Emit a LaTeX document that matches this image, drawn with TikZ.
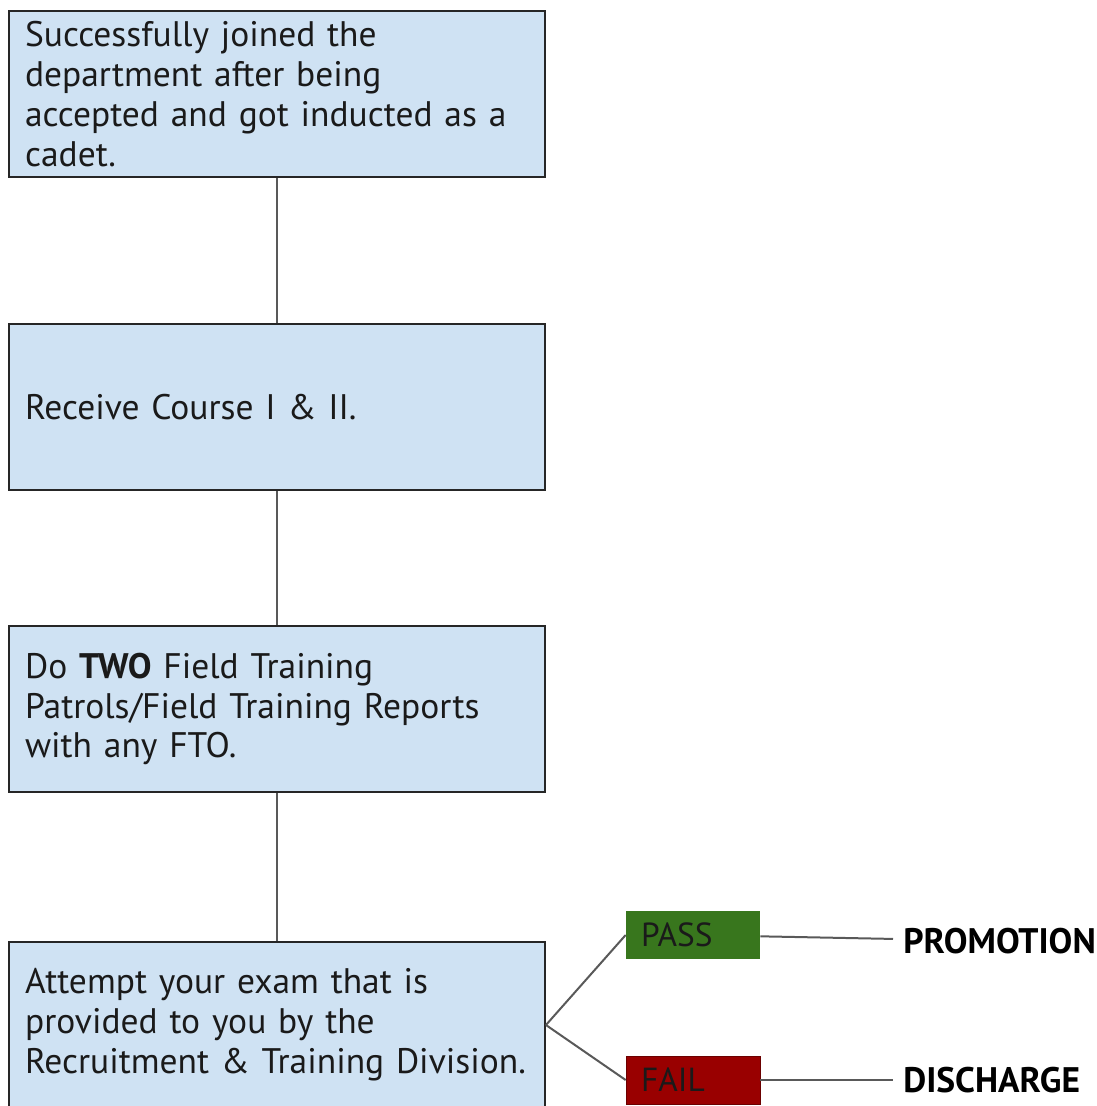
\documentclass[tikz,border=0pt]{standalone}
\usepackage{fontspec}
\setmainfont{PT Sans}
\usetikzlibrary{arrows,shapes}

\begin{document}
\begin{tikzpicture}[x=0.02cm,y=-0.02cm,font=\fontsize{20.2}{22.7}\selectfont]

\definecolor{stagebox}{HTML}{CFE2F3} % light blue
\definecolor{stageline}{HTML}{262626} % near black
\definecolor{passbox}{HTML}{38761D} % dark green
\definecolor{failbox}{HTML}{990000} % dark red
\definecolor{wire}{HTML}{595959} % grey
\definecolor{txt}{HTML}{1A1A1A} % off-black

\tikzstyle{stage}=[rectangle,draw=stageline,fill=stagebox,text=txt,
	line width=0.04cm,minimum width=10.72cm,minimum height=3.32cm,
	text width=10.08cm,inner xsep=0.32cm,align=left]

\tikzstyle{result}=[rectangle,text=txt,minimum height=0.96cm,
	text width=2.08cm,inner xsep=0.3cm,align=left,
	font=\fontsize{19}{22.7}\selectfont]

\tikzstyle{outcome}=[text=black,inner sep=0.2cm]

\tikzstyle{link}=[color=wire,line width=0.04cm]

  \useasboundingbox (0,0) rectangle (1097,1106);

  \node  (join)   at (277,94)   [stage]
         {Successfully joined the\\
          department after being\\
          accepted and got inducted as a\\
          cadet.};

  \node  (course) at (277,407)  [stage]  {Receive Course I \& II.};

  \node  (fto)    at (277,709)  [stage]
         {Do \textbf{TWO} Field Training\\
          Patrols/Field Training Reports\\
          with any FTO.};

  \node  (exam)   at (277,1025) [stage]
         {Attempt your exam that is\\
          provided to you by the\\
          Recruitment \& Training Division.};

  \node  (pass)   at (693,935)  [result,fill=passbox]  {PASS};
  \node  (fail)   at (693,1080) [result,fill=failbox,draw=failbox!70!black]  {FAIL};

  \node  (promo)  at (893,941)  [outcome,anchor=west]  {\textbf{PROMOTION}};
  \node  (disch)  at (893,1080) [outcome,anchor=west]  {\textbf{DISCHARGE}};

  \path (join)   edge [link] (course)
        (course) edge [link] (fto)
        (fto)    edge [link] (exam)

        (exam.east) edge [link] (pass.west)
                    edge [link] (fail.west)

        (pass) edge [link] (promo)
        (fail) edge [link] (disch);

\end{tikzpicture}
\end{document}
